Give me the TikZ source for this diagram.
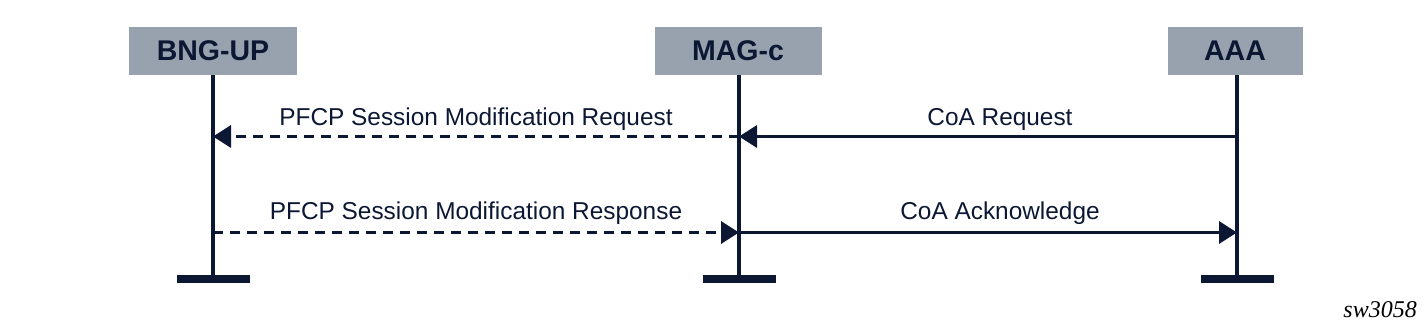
\documentclass[tikz,border=0pt]{standalone}
\usepackage{fontspec}
\setmainfont{Liberation Sans}
\newfontfamily\serifit{Liberation Serif}
\usetikzlibrary{arrows.meta}
\definecolor{navy}{RGB}{12,24,51}
\definecolor{boxgray}{RGB}{152,162,174}
\begin{document}
\begin{tikzpicture}[x=1pt,y=-1pt,
  actor/.style={fill=boxgray,draw=none,minimum height=48pt,inner sep=0pt,
    text=navy,font=\fontsize{28.5}{32}\selectfont\bfseries},
  endbar/.style={fill=navy,draw=none,minimum width=73pt,minimum height=8pt,inner sep=0pt},
  life/.style={draw=navy,line width=4.3pt},
  msg/.style={draw=navy,line width=3.5pt,-{Triangle[length=18pt,width=22pt]}},
  dmsg/.style={msg,dash pattern=on 10pt off 7pt},
  lbl/.style={anchor=base,text=navy,inner sep=0pt,font=\fontsize{24.4}{28}\selectfont}]
\useasboundingbox (0,0) rectangle (1428,331);
% actors
\node[actor,minimum width=168pt] (bng) at (213,51) {BNG-UP};
\node[actor,minimum width=167pt] (mag) at (738,51) {MAG-c};
\node[actor,minimum width=135pt] (aaa) at (1235,51) {AAA};
% end bars
\node[endbar] (bngend) at (213,279.3) {};
\node[endbar] (magend) at (739,279.3) {};
\node[endbar] (aaaend) at (1237,279.3) {};
% lifelines
\draw[life] (bng.south -| bngend) -- (bngend.north);
\draw[life] (mag.south -| magend) -- (magend.north);
\draw[life] (aaa.south -| aaaend) -- (aaaend.north);
% message points
\coordinate (b1) at (213,136.5);
\coordinate (m1) at (739,136.5);
\coordinate (a1) at (1237,136.5);
\coordinate (b2) at (213,232.5);
\coordinate (m2) at (739,232.5);
\coordinate (a2) at (1237,232.5);
% messages
\draw[msg] (a1) -- (m1);
\draw[dmsg] (m1) -- (b1);
\draw[dmsg] (b2) -- (m2);
\draw[msg] (m2) -- (a2);
% labels
\node[lbl] (l1) at (476,126) {PFCP Session Modification Request};
\node[lbl] (l2) at (1000,126) {CoA Request};
\node[lbl] (l3) at (476,220) {PFCP Session Modification Response};
\node[lbl] (l4) at (1000,220) {CoA Acknowledge};
\node[anchor=base east,inner sep=0pt,text=black,font=\fontsize{24}{28}\serifit\itshape] (sw) at (1417,318) {sw3058};
\end{tikzpicture}
\end{document}
